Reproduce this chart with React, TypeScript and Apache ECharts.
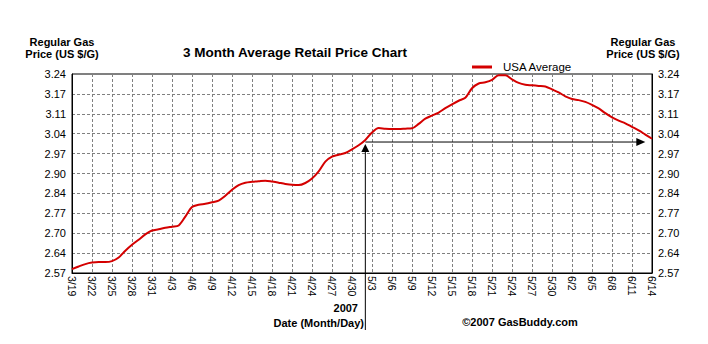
import React, { useEffect, useRef } from "react";
import * as echarts from "echarts";

const dates: string[] = [
  "3/19", "3/20", "3/21", "3/22", "3/23", "3/24", "3/25", "3/26", "3/27", "3/28", "3/29", "3/30", "3/31",
  "4/1", "4/2", "4/3", "4/4", "4/5", "4/6", "4/7", "4/8", "4/9", "4/10", "4/11", "4/12", "4/13", "4/14", "4/15",
  "4/16", "4/17", "4/18", "4/19", "4/20", "4/21", "4/22", "4/23", "4/24", "4/25", "4/26", "4/27", "4/28", "4/29", "4/30",
  "5/1", "5/2", "5/3", "5/4", "5/5", "5/6", "5/7", "5/8", "5/9", "5/10", "5/11", "5/12", "5/13", "5/14", "5/15",
  "5/16", "5/17", "5/18", "5/19", "5/20", "5/21", "5/22", "5/23", "5/24", "5/25", "5/26", "5/27", "5/28", "5/29",
  "5/30", "5/31", "6/1", "6/2", "6/3", "6/4", "6/5", "6/6", "6/7", "6/8", "6/9", "6/10", "6/11", "6/12", "6/13", "6/14",
];

const usaAverage: number[] = [
  2.583, 2.592, 2.6, 2.605, 2.607, 2.607, 2.61, 2.622, 2.645, 2.665, 2.682, 2.7, 2.713,
  2.717, 2.722, 2.726, 2.73, 2.76, 2.792, 2.8, 2.803, 2.808, 2.814, 2.83, 2.85, 2.866, 2.874, 2.877,
  2.879, 2.881, 2.878, 2.874, 2.87, 2.867, 2.866, 2.873, 2.888, 2.912, 2.945, 2.962, 2.968, 2.974, 2.986,
  3.0, 3.018, 3.043, 3.058, 3.056, 3.055, 3.055, 3.056, 3.057, 3.072, 3.09, 3.1, 3.11, 3.125, 3.138,
  3.15, 3.16, 3.192, 3.208, 3.212, 3.22, 3.236, 3.236, 3.222, 3.21, 3.204, 3.202, 3.2, 3.198,
  3.188, 3.178, 3.165, 3.156, 3.152, 3.146, 3.136, 3.124, 3.108, 3.094, 3.083, 3.074, 3.062, 3.05, 3.036, 3.022,
];

const yTickLabels: string[] = ["2.57", "2.64", "2.70", "2.77", "2.84", "2.90", "2.97", "3.04", "3.11", "3.17", "3.24"];
const yMin = 2.57;
const yMax = 3.24;
const yStep = 0.067;

const seriesName = "USA Average";
const titleText = "3 Month Average Retail Price Chart";
const axisTitle = "Regular Gas\nPrice (US $/G)";
const yearText = "2007";
const xAxisTitle = "Date (Month/Day)";
const creditText = "\u00a92007 GasBuddy.com";

const arrowStartDate = "5/2";
const arrowEndDate = "6/13";
const arrowValue = 3.011;

const FONT = "'Liberation Sans', Arial, sans-serif";
const RED = "#d40000";

export default function App() {
  const ref = useRef<HTMLDivElement>(null);
  useEffect(() => {
    const chart = echarts.init(ref.current!, null, { renderer: "svg" });
    const yLabelFmt = (v: number) => yTickLabels[Math.round((v - yMin) / yStep)] ?? "";
    const yAxisCommon = {
      type: "value" as const,
      min: yMin,
      max: yMax,
      interval: yStep,
      axisLine: { show: true, lineStyle: { color: "#000", width: 1 } },
      axisTick: { show: false },
      axisLabel: { color: "#000", fontSize: 11, fontFamily: FONT, formatter: yLabelFmt, margin: 6 },
    };
    chart.setOption({
      animation: false,
      backgroundColor: "#fff",
      textStyle: { fontFamily: FONT },
      grid: { left: 72, right: 56, top: 74, bottom: 71, show: true, borderColor: "#000", borderWidth: 1, backgroundColor: "#fff" },
      legend: {
        data: [seriesName],
        left: 472,
        top: 61,
        padding: 0,
        icon: "rect",
        itemWidth: 20,
        itemHeight: 3,
        itemGap: 10,
        textStyle: { color: "#000", fontSize: 11.5, fontFamily: FONT, padding: [0, 0, 0, 6] },
      },
      xAxis: {
        type: "category",
        data: dates,
        boundaryGap: false,
        axisLine: { show: true, lineStyle: { color: "#000", width: 1 } },
        axisTick: { show: false },
        axisLabel: { interval: 2, rotate: -90, color: "#000", fontSize: 10.5, fontFamily: FONT, margin: 3 },
        splitLine: { show: true, interval: 2, lineStyle: { color: "#808080", type: [3, 2], width: 1 } },
      },
      yAxis: [
        { ...yAxisCommon, position: "left", splitLine: { show: true, lineStyle: { color: "#808080", type: [3, 2], width: 1 } } },
        { ...yAxisCommon, position: "right", splitLine: { show: false } },
      ],
      series: [
        {
          name: seriesName,
          type: "line",
          data: usaAverage,
          yAxisIndex: 0,
          symbol: "none",
          smooth: 0.3,
          lineStyle: { color: RED, width: 2 },
          itemStyle: { color: RED },
        },
      ],
    });

    const [px, py] = chart.convertToPixel({ gridIndex: 0 }, [dates.indexOf(arrowStartDate), arrowValue]) as number[];
    const [ex] = chart.convertToPixel({ gridIndex: 0 }, [dates.indexOf(arrowEndDate), arrowValue]) as number[];

    const boldText = (x: number, y: number, text: string, align: string, size = 11) => ({
      type: "text",
      x,
      y,
      style: { text, font: `bold ${size}px ${FONT}`, fill: "#000", align, verticalAlign: "middle", lineHeight: 12 },
    });

    chart.setOption({
      graphic: [
        boldText(62, 48, axisTitle, "center"),
        boldText(643, 48, axisTitle, "center"),
        boldText(295, 52, titleText, "center", 13.5),
        boldText(358, 308, yearText, "right"),
        boldText(364, 323, xAxisTitle, "right"),
        boldText(520, 322, creditText, "center"),
        {
          type: "line",
          shape: { x1: px, y1: 330, x2: px, y2: py + 6 },
          style: { stroke: "#000", lineWidth: 1 },
        },
        {
          type: "polygon",
          shape: { points: [[px, py + 2], [px - 4, py + 10], [px + 4, py + 10]] },
          style: { fill: "#000" },
        },
        {
          type: "line",
          shape: { x1: px, y1: py, x2: ex - 4, y2: py },
          style: { stroke: "#000", lineWidth: 1 },
        },
        {
          type: "polygon",
          shape: { points: [[ex, py], [ex - 9, py - 4], [ex - 9, py + 4]] },
          style: { fill: "#000" },
        },
      ],
    });
    return () => chart.dispose();
  }, []);
  return <div ref={ref} style={{ position: "fixed", left: 0, top: 0, width: 708, height: 344 }} />;
}
